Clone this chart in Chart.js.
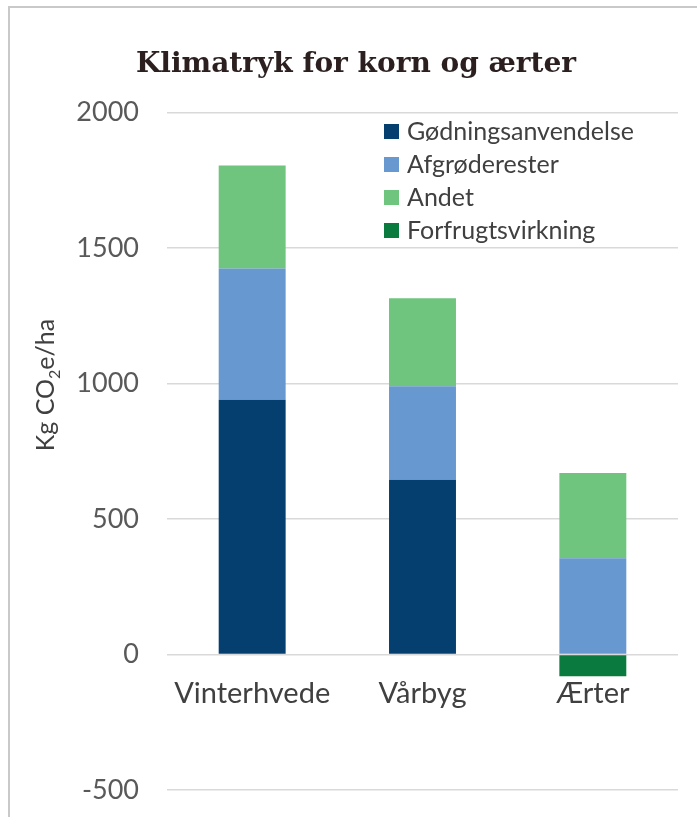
<!DOCTYPE html>
<html>
<head>
<meta charset="utf-8">
<script src="https://cdn.jsdelivr.net/npm/chart.js@4"></script>
<style>
  html, body { margin: 0; padding: 0; background: #fff; overflow: hidden; }
  #frame { position: absolute; left: 8px; top: 6px; width: 740px; height: 860px; border: 2px solid #c9c9c9; box-sizing: border-box; }
  #wrap { position: absolute; left: 0; top: 0; width: 697px; height: 817px; }
</style>
</head>
<body>
<div id="frame"></div>
<div id="wrap"><canvas id="myChart"></canvas></div>
<script>
// Afgrøder og kilder til klimatryk (kg CO2e/ha)
const categories = ['Vinterhvede', 'Vårbyg', 'Ærter'];
const seriesNames = ['Gødningsanvendelse', 'Afgrøderester', 'Andet', 'Forfrugtsvirkning'];
const goedning = [940, 645, 0];
const afgroederester = [485, 345, 355];
const andet = [380, 325, 315];
const forfrugt = [null, null, -80];
const yTicks = [-500, 0, 500, 1000, 1500, 2000];
const seriesColors = ['#053f70', '#6898d0', '#6fc47e', '#0b7a3e'];

const SANS = 'Lato';

// Legende og y-aksetitel tegnes oven på plotområdet
const overlayPlugin = {
    id: 'overlay',
    afterDraw(chart) {
        const ctx = chart.ctx;
        ctx.save();

        // Legende oppe til højre
        ctx.font = '25px ' + SANS;
        ctx.textBaseline = 'middle';
        ctx.textAlign = 'left';
        chart.data.datasets.forEach((ds, i) => {
            const y = 131 + i * 33;
            ctx.fillStyle = ds.backgroundColor;
            ctx.fillRect(384, y - 7, 15, 15);
            ctx.fillStyle = '#404040';
            ctx.fillText(ds.label, 407, y + 1);
        });

        // Y-aksetitel med sænket 2-tal
        const big = '25px ' + SANS;
        const small = '16px ' + SANS;
        const parts = [['Kg CO', big, 0], ['2', small, 6], ['e/ha', big, 0]];
        let total = 0;
        parts.forEach(p => { ctx.font = p[1]; total += ctx.measureText(p[0]).width; });
        ctx.translate(45, 385);
        ctx.rotate(-Math.PI / 2);
        ctx.fillStyle = '#404040';
        ctx.textBaseline = 'alphabetic';
        let x = -total / 2;
        parts.forEach(p => {
            ctx.font = p[1];
            ctx.fillText(p[0], x, 9 + p[2]);
            x += ctx.measureText(p[0]).width;
        });
        ctx.restore();
    }
};

const ctx = document.getElementById('myChart').getContext('2d');
const myChart = new Chart(ctx, {
    type: 'bar',
    data: {
        labels: categories,
        datasets: [goedning, afgroederester, andet, forfrugt].map((values, i) => ({
            label: seriesNames[i],
            data: values,
            backgroundColor: seriesColors[i],
            borderWidth: 0,
            barPercentage: 1,
            categoryPercentage: 0.393
        }))
    },
    options: {
        responsive: true,
        maintainAspectRatio: false,
        animation: false,
        layout: { padding: { top: 48, left: 34, right: 19, bottom: 27 } },
        plugins: {
            legend: { display: false },
            tooltip: { enabled: false },
            title: {
                display: true,
                text: 'Klimatryk for korn og ærter',
                color: '#2b1f1f',
                font: { family: 'DejaVu Serif', weight: 'bold', size: 28 },
                padding: { top: 0, bottom: 31 }
            }
        },
        scales: {
            x: {
                stacked: true,
                position: { y: 0 },
                // aksen står ved 0 inde i plottet og skal ikke tage plads i layoutet
                afterFit: (axis) => {
                    axis.height = 0;
                    axis.paddingLeft = 0;
                    axis.paddingRight = 0;
                    axis.paddingTop = 0;
                    axis.paddingBottom = 0;
                },
                grid: { display: false, drawTicks: false },
                border: { display: false },
                ticks: { color: '#404040', font: { family: SANS, size: 29 }, padding: 22 }
            },
            y: {
                stacked: true,
                min: -500,
                max: 2000,
                afterBuildTicks: (axis) => { axis.ticks = yTicks.map(v => ({ value: v })); },
                afterFit: (axis) => {
                    axis.width = 133;
                    axis.paddingTop = 16;
                    axis.paddingBottom = 16;
                },
                grid: { color: '#d9d9d9', lineWidth: 1.5, drawTicks: false },
                border: { display: false },
                ticks: {
                    color: '#595959',
                    font: { family: SANS, size: 27 },
                    padding: 28,
                    callback: (value) => String(value)
                }
            }
        }
    },
    plugins: [overlayPlugin]
});
</script>
</body>
</html>
